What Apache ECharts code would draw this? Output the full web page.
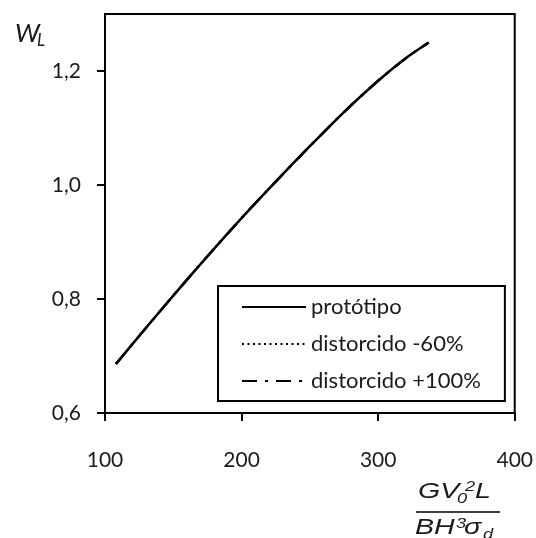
<!DOCTYPE html>
<html><head><meta charset="utf-8">
<script src="https://cdn.jsdelivr.net/npm/echarts@6/dist/echarts.min.js"></script>
<style>html,body{margin:0;padding:0;background:#fff}#c{width:536px;height:538px}</style>
</head><body><div id="c"></div>
<script>
// Data
var xVals = [108, 125, 150, 175, 200, 225, 250, 275, 300, 320, 337];
var prototipo = [0.686, 0.735, 0.806, 0.875, 0.942, 1.006, 1.068, 1.128, 1.183, 1.222, 1.250];
var distorcidoMenos60 = [0.686, 0.735, 0.806, 0.875, 0.942, 1.006, 1.068, 1.128, 1.183, 1.222, 1.250];
var distorcidoMais100 = [0.686, 0.735, 0.806, 0.875, 0.942, 1.006, 1.068, 1.128, 1.183, 1.222, 1.250];
var seriesNames = ['protótipo', 'distorcido -60%', 'distorcido +100%'];
var yTicks = [0.6, 0.8, 1.0, 1.2];
var xTicks = [100, 200, 300, 400];

function pairs(xs, ys){ return xs.map(function(x,i){return [x, ys[i]];}); }

var FONT = 'Lato';
var TXT = '#1a1a1a';
var MF = '"Liberation Sans"';
var SX = 1.3;
function t(text, x, y, size){
  return {type: 'text', x: x, y: y, scaleX: SX, style: {text: text, font: 'italic ' + size + 'px ' + MF, fill: TXT}};
}
var chart = echarts.init(document.getElementById('c'), null, {renderer:'canvas'});
chart.setOption({
  animation: false,
  backgroundColor: '#fff',
  grid: {left: 105, right: 20, top: 14, bottom: 125, show: true, borderColor: '#000', borderWidth: 2, backgroundColor: 'transparent'},
  xAxis: {
    type: 'value', min: 100, max: 400, interval: 100,
    axisLine: {show: true, lineStyle: {color: '#000', width: 2}},
    axisTick: {show: true, length: 8, lineStyle: {color: '#000', width: 2}, customValues: xTicks},
    axisLabel: {customValues: xTicks, margin: 37, fontFamily: FONT, fontSize: 21, color: TXT},
    splitLine: {show: false}
  },
  yAxis: {
    type: 'value', min: 0.6, max: 1.3, interval: 0.2,
    axisLine: {show: true, lineStyle: {color: '#000', width: 2}},
    axisTick: {show: true, length: 8, lineStyle: {color: '#000', width: 2}, customValues: yTicks},
    axisLabel: {customValues: yTicks, margin: 24, fontFamily: FONT, fontSize: 21, color: TXT,
      formatter: function(v){ return v.toFixed(1).replace('.', ','); }},
    splitLine: {show: false}
  },
  legend: {
    orient: 'vertical', left: 218, top: 286,
    data: seriesNames,
    itemWidth: 64, itemHeight: 22, itemGap: 15,
    padding: [10, 24, 9, 23],
    borderColor: '#000', borderWidth: 2,
    backgroundColor: '#fff',
    itemStyle: {opacity: 0},
    textStyle: {fontFamily: FONT, fontSize: 22, color: TXT}
  },
  series: [
    {name: seriesNames[1], type: 'line', data: pairs(xVals, distorcidoMenos60), smooth: 0.3, symbol: 'none', z: 1,
      lineStyle: {color: '#000', width: 2, type: [2, 3.5]}, itemStyle: {color: '#000'}},
    {name: seriesNames[2], type: 'line', data: pairs(xVals, distorcidoMais100), smooth: 0.3, symbol: 'none', z: 1,
      lineStyle: {color: '#000', width: 2.5, type: [15, 8, 3, 8]}, itemStyle: {color: '#000'}},
    {name: seriesNames[0], type: 'line', data: pairs(xVals, prototipo), smooth: 0.3, symbol: 'none', z: 3,
      lineStyle: {color: '#000', width: 2.5, type: 'solid'}, itemStyle: {color: '#000'}}
  ],
  graphic: [
    {type: 'text', left: 15, top: 21, style: {text: 'W', font: 'italic 26px Lato', fill: TXT}},
    {type: 'text', left: 37, top: 32, style: {text: 'L', font: 'italic 17px Lato', fill: TXT}},
    // x axis name as a fraction
    t('GV', 418, 481, 22),
    t('0', 457, 492, 14),
    t('2', 465, 480, 14),
    t('L', 475, 481, 22),
    {type: 'line', shape: {x1: 416, y1: 512, x2: 500, y2: 512}, style: {stroke: '#000', lineWidth: 1.5}},
    t('BH', 415, 517, 22),
    t('3', 456, 517, 14),
    t('σ', 464, 517, 22),
    t('d', 483, 528, 14)
  ]
});
</script></body></html>
